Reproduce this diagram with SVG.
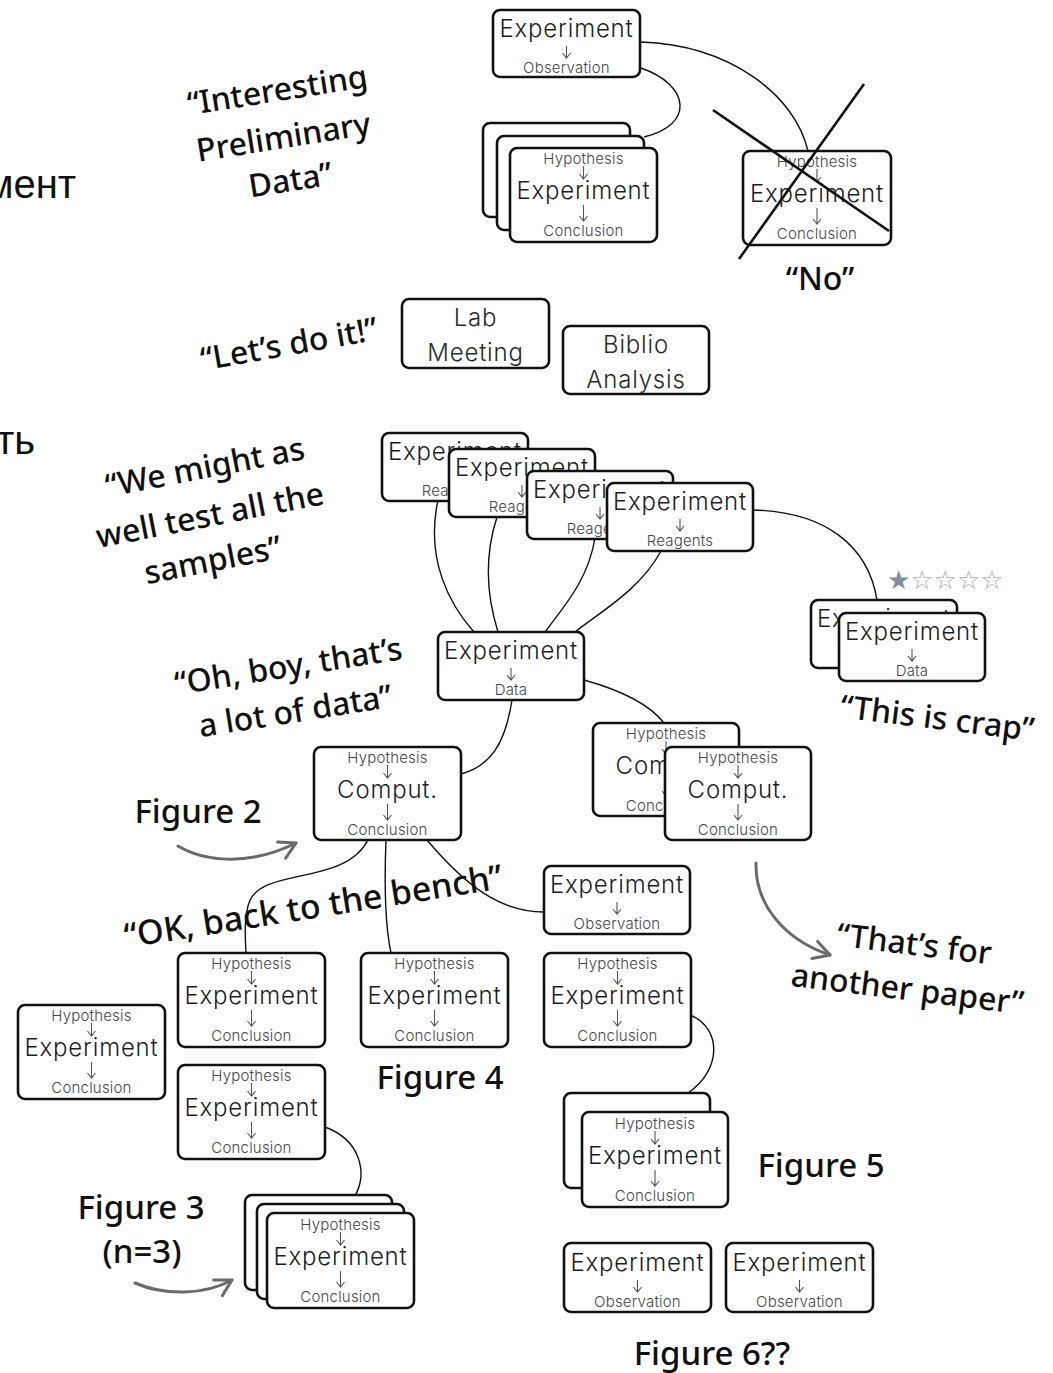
<svg xmlns="http://www.w3.org/2000/svg" width="1053" height="1373" viewBox="0 0 1053 1373">
<style>
.box{fill:#fff;stroke:#111;stroke-width:2.6}
.lg{font-family:Inter,Lato,"DejaVu Sans",sans-serif;font-weight:300;font-size:24px;letter-spacing:0.8px;fill:#1e1e1e;text-anchor:middle}
.sm{font-family:Inter,Lato,"DejaVu Sans",sans-serif;font-weight:300;font-size:15px;letter-spacing:0.2px;fill:#474747;text-anchor:middle}
.ar{fill:none;stroke:#555;stroke-width:1.1}
.con{fill:none;stroke:#111;stroke-width:1.4}
.q{font-family:"Noto Sans","DejaVu Sans",sans-serif;font-weight:500;font-size:32px;fill:#111;text-anchor:middle}
.fig{font-family:"Noto Sans","DejaVu Sans",sans-serif;font-weight:500;font-size:33px;fill:#111;text-anchor:middle}
.garr{fill:none;stroke:#6a6a6a;stroke-width:3;stroke-linecap:round}
.x{stroke:#111;stroke-width:2.6}
.ru{font-family:"Liberation Sans",Arial,sans-serif;font-size:40px;fill:#111}
.st{font-family:"DejaVu Sans",sans-serif;font-size:26px}
</style>
<defs>
<marker id="gh" viewBox="0 0 22 22" refX="19" refY="11" markerWidth="22" markerHeight="22" markerUnits="userSpaceOnUse" orient="auto"><path d="M3 2 L19 11 L3 20" fill="none" stroke="#6a6a6a" stroke-width="3" stroke-linecap="round" stroke-linejoin="round"/></marker>
</defs>
<rect width="1053" height="1373" fill="#fff"/>

<g id="connectors">
<path class="con" d="M641 42 C730 45 795 95 808 151"/>
<path class="con" d="M641 68 C690 85 695 125 644 137"/>
<path class="con" d="M438 500 C425 560 450 605 474 632"/>
<path class="con" d="M497 517 C483 560 488 600 498 632"/>
<path class="con" d="M595 538 C588 580 565 605 545 632"/>
<path class="con" d="M661 551 C640 590 600 612 575 632"/>
<path class="con" d="M753 510 C825 512 868 545 877 600"/>
<path class="con" d="M512 700 C505 745 490 766 461 774"/>
<path class="con" d="M584 680 C620 690 650 705 664 723"/>
<path class="con" d="M368 840 C345 885 265 868 250 900 C244 915 245 935 246 953"/>
<path class="con" d="M386 840 C384 890 385 925 391 953"/>
<path class="con" d="M427 840 C465 885 500 912 544 912"/>
<path class="con" d="M325 1127 C360 1140 368 1172 355 1196"/>
<path class="con" d="M690 1015 C722 1028 722 1070 688 1093"/>
</g>

<g id="n-top-obs" transform="translate(493,10)">
<rect class="box" width="147" height="67" rx="7"/>
<text class="lg" x="73.5" y="27">Experiment</text>
<path class="ar" d="M73.5 36 V48 M69.5 43 L73.5 48 L77.5 43"/>
<text class="sm" x="73.5" y="63">Observation</text>
</g>

<g id="n-prelim-stack">
<rect class="box" x="483" y="123" width="147" height="94" rx="7"/>
<rect class="box" x="497" y="136" width="147" height="94" rx="7"/>
<g transform="translate(510,148)">
<rect class="box" width="147" height="94" rx="7"/>
<text class="sm" x="73.5" y="16">Hypothesis</text>
<path class="ar" d="M73.5 18 V31 M69.5 26 L73.5 31 L77.5 26"/>
<text class="lg" x="73.5" y="51">Experiment</text>
<path class="ar" d="M73.5 57 V73 M69.5 68 L73.5 73 L77.5 68"/>
<text class="sm" x="73.5" y="88">Conclusion</text>
</g>
</g>

<g id="n-crossed">
<g transform="translate(743,151)">
<rect class="box" width="148" height="94" rx="7"/>
<text class="sm" x="74" y="16">Hypothesis</text>
<path class="ar" d="M74 18 V31 M70 26 L74 31 L78 26"/>
<text class="lg" x="74" y="51">Experiment</text>
<path class="ar" d="M74 57 V73 M70 68 L74 73 L78 68"/>
<text class="sm" x="74" y="88">Conclusion</text>
</g>
<line class="x" x1="713" y1="110" x2="889" y2="231"/>
<line class="x" x1="864" y1="84" x2="739" y2="259"/>
</g>

<g id="n-lab">
<rect class="box" x="402" y="299" width="147" height="69" rx="7"/>
<text class="lg" x="475.5" y="326" style="fill:#2a2a2a">Lab</text>
<text class="lg" x="475.5" y="361" style="fill:#2a2a2a">Meeting</text>
</g>

<g id="n-biblio">
<rect class="box" x="563" y="326" width="146" height="68" rx="7"/>
<text class="lg" x="636" y="353" style="fill:#2a2a2a">Biblio</text>
<text class="lg" x="636" y="388" style="fill:#2a2a2a">Analysis</text>
</g>

<g id="n-reagents-1" transform="translate(382,433)">
<rect class="box" width="146" height="68" rx="7"/>
<text class="lg" x="73" y="27">Experiment</text>
<path class="ar" d="M73 36 V48 M69 43 L73 48 L77 43"/>
<text class="sm" x="73" y="63">Reagents</text>
</g>
<g id="n-reagents-2" transform="translate(449,449)">
<rect class="box" width="146" height="68" rx="7"/>
<text class="lg" x="73" y="27">Experiment</text>
<path class="ar" d="M73 36 V48 M69 43 L73 48 L77 43"/>
<text class="sm" x="73" y="63">Reagents</text>
</g>
<g id="n-reagents-3" transform="translate(527,471)">
<rect class="box" width="146" height="68" rx="7"/>
<text class="lg" x="73" y="27">Experiment</text>
<path class="ar" d="M73 36 V48 M69 43 L73 48 L77 43"/>
<text class="sm" x="73" y="63">Reagents</text>
</g>
<g id="n-reagents-4" transform="translate(607,483)">
<rect class="box" width="146" height="68" rx="7"/>
<text class="lg" x="73" y="27">Experiment</text>
<path class="ar" d="M73 36 V48 M69 43 L73 48 L77 43"/>
<text class="sm" x="73" y="63">Reagents</text>
</g>

<g id="n-data" transform="translate(438,632)">
<rect class="box" width="146" height="68" rx="7"/>
<text class="lg" x="73" y="27">Experiment</text>
<path class="ar" d="M73 36 V48 M69 43 L73 48 L77 43"/>
<text class="sm" x="73" y="63">Data</text>
</g>

<g id="n-crap-stack">
<g transform="translate(811,600)">
<rect class="box" width="146" height="68" rx="7"/>
<text class="lg" x="73" y="27">Experiment</text>
<text class="sm" x="73" y="63">Data</text>
</g>
<g transform="translate(839,613)">
<rect class="box" width="146" height="68" rx="7"/>
<text class="lg" x="73" y="27">Experiment</text>
<path class="ar" d="M73 36 V48 M69 43 L73 48 L77 43"/>
<text class="sm" x="73" y="63">Data</text>
</g>
<text class="st" x="887" y="589"><tspan fill="#7f8ea0">★</tspan><tspan fill="#a3adb8">☆☆☆☆</tspan></text>
</g>

<g id="n-comput-left" transform="translate(314,747)">
<rect class="box" width="147" height="93" rx="7"/>
<text class="sm" x="73.5" y="16">Hypothesis</text>
<path class="ar" d="M73.5 18 V31 M69.5 26 L73.5 31 L77.5 26"/>
<text class="lg" x="73.5" y="51">Comput.</text>
<path class="ar" d="M73.5 57 V73 M69.5 68 L73.5 73 L77.5 68"/>
<text class="sm" x="73.5" y="88">Conclusion</text>
</g>

<g id="n-comput-stack">
<g transform="translate(593,723)">
<rect class="box" width="146" height="93" rx="7"/>
<text class="sm" x="73" y="16">Hypothesis</text>
<path class="ar" d="M73 18 V31 M69 26 L73 31 L77 26"/>
<text class="lg" x="73" y="51">Comput.</text>
<path class="ar" d="M73 57 V73 M69 68 L73 73 L77 68"/>
<text class="sm" x="73" y="88">Conclusion</text>
</g>
<g transform="translate(665,747)">
<rect class="box" width="146" height="93" rx="7"/>
<text class="sm" x="73" y="16">Hypothesis</text>
<path class="ar" d="M73 18 V31 M69 26 L73 31 L77 26"/>
<text class="lg" x="73" y="51">Comput.</text>
<path class="ar" d="M73 57 V73 M69 68 L73 73 L77 68"/>
<text class="sm" x="73" y="88">Conclusion</text>
</g>
</g>

<g id="n-mid-obs" transform="translate(544,866)">
<rect class="box" width="146" height="68" rx="7"/>
<text class="lg" x="73" y="27">Experiment</text>
<path class="ar" d="M73 36 V48 M69 43 L73 48 L77 43"/>
<text class="sm" x="73" y="63">Observation</text>
</g>

<g id="n-fig4-a" transform="translate(178,953)">
<rect class="box" width="147" height="94" rx="7"/>
<text class="sm" x="73.5" y="16">Hypothesis</text>
<path class="ar" d="M73.5 18 V31 M69.5 26 L73.5 31 L77.5 26"/>
<text class="lg" x="73.5" y="51">Experiment</text>
<path class="ar" d="M73.5 57 V73 M69.5 68 L73.5 73 L77.5 68"/>
<text class="sm" x="73.5" y="88">Conclusion</text>
</g>
<g id="n-fig4-b" transform="translate(361,953)">
<rect class="box" width="147" height="94" rx="7"/>
<text class="sm" x="73.5" y="16">Hypothesis</text>
<path class="ar" d="M73.5 18 V31 M69.5 26 L73.5 31 L77.5 26"/>
<text class="lg" x="73.5" y="51">Experiment</text>
<path class="ar" d="M73.5 57 V73 M69.5 68 L73.5 73 L77.5 68"/>
<text class="sm" x="73.5" y="88">Conclusion</text>
</g>
<g id="n-fig4-c" transform="translate(544,953)">
<rect class="box" width="147" height="94" rx="7"/>
<text class="sm" x="73.5" y="16">Hypothesis</text>
<path class="ar" d="M73.5 18 V31 M69.5 26 L73.5 31 L77.5 26"/>
<text class="lg" x="73.5" y="51">Experiment</text>
<path class="ar" d="M73.5 57 V73 M69.5 68 L73.5 73 L77.5 68"/>
<text class="sm" x="73.5" y="88">Conclusion</text>
</g>
<g id="n-left" transform="translate(18,1005)">
<rect class="box" width="147" height="94" rx="7"/>
<text class="sm" x="73.5" y="16">Hypothesis</text>
<path class="ar" d="M73.5 18 V31 M69.5 26 L73.5 31 L77.5 26"/>
<text class="lg" x="73.5" y="51">Experiment</text>
<path class="ar" d="M73.5 57 V73 M69.5 68 L73.5 73 L77.5 68"/>
<text class="sm" x="73.5" y="88">Conclusion</text>
</g>
<g id="n-fig3-src" transform="translate(178,1065)">
<rect class="box" width="147" height="94" rx="7"/>
<text class="sm" x="73.5" y="16">Hypothesis</text>
<path class="ar" d="M73.5 18 V31 M69.5 26 L73.5 31 L77.5 26"/>
<text class="lg" x="73.5" y="51">Experiment</text>
<path class="ar" d="M73.5 57 V73 M69.5 68 L73.5 73 L77.5 68"/>
<text class="sm" x="73.5" y="88">Conclusion</text>
</g>

<g id="n-fig3-stack">
<rect class="box" x="245" y="1195" width="147" height="95" rx="7"/>
<rect class="box" x="257" y="1204" width="147" height="95" rx="7"/>
<g transform="translate(267,1213)">
<rect class="box" width="147" height="95" rx="7"/>
<text class="sm" x="73.5" y="17">Hypothesis</text>
<path class="ar" d="M73.5 19 V32 M69.5 27 L73.5 32 L77.5 27"/>
<text class="lg" x="73.5" y="52">Experiment</text>
<path class="ar" d="M73.5 58 V74 M69.5 69 L73.5 74 L77.5 69"/>
<text class="sm" x="73.5" y="89">Conclusion</text>
</g>
</g>

<g id="n-fig5-stack">
<rect class="box" x="564" y="1093" width="146" height="95" rx="7"/>
<g transform="translate(582,1112)">
<rect class="box" width="146" height="95" rx="7"/>
<text class="sm" x="73" y="17">Hypothesis</text>
<path class="ar" d="M73 19 V32 M69 27 L73 32 L77 27"/>
<text class="lg" x="73" y="52">Experiment</text>
<path class="ar" d="M73 58 V74 M69 69 L73 74 L77 69"/>
<text class="sm" x="73" y="89">Conclusion</text>
</g>
</g>

<g id="n-fig6-a" transform="translate(564,1243)">
<rect class="box" width="147" height="69" rx="7"/>
<text class="lg" x="73.5" y="28">Experiment</text>
<path class="ar" d="M73.5 37 V49 M69.5 44 L73.5 49 L77.5 44"/>
<text class="sm" x="73.5" y="64">Observation</text>
</g>
<g id="n-fig6-b" transform="translate(726,1243)">
<rect class="box" width="147" height="69" rx="7"/>
<text class="lg" x="73.5" y="28">Experiment</text>
<path class="ar" d="M73.5 37 V49 M69.5 44 L73.5 49 L77.5 44"/>
<text class="sm" x="73.5" y="64">Observation</text>
</g>

<g id="gray-arrows">
<path class="garr" marker-end="url(#gh)" d="M178 846 C205 862 250 866 296 843"/>
<path class="garr" marker-end="url(#gh)" d="M135 1283 C165 1296 205 1295 232 1280"/>
<path class="garr" marker-end="url(#gh)" d="M756 863 C755 905 785 940 830 955"/>
</g>

<g id="labels">
<text class="q" x="279" y="101" transform="rotate(-9 279 101)">“Interesting</text>
<text class="q" x="285" y="148" transform="rotate(-9 285 148)">Preliminary</text>
<text class="q" x="292" y="191" transform="rotate(-9 292 191)">Data”</text>
<text class="q" x="291" y="355" transform="rotate(-10 291 355)">“Let’s do it!”</text>
<text class="q" x="207" y="478" transform="rotate(-11 207 478)">“We might as</text>
<text class="q" x="212" y="526" transform="rotate(-11 212 526)">well test all the</text>
<text class="q" x="215" y="571" transform="rotate(-11 215 571)">samples”</text>
<text class="q" x="290" y="677" transform="rotate(-9 290 677)">“Oh, boy, that’s</text>
<text class="q" x="297" y="722" transform="rotate(-9 297 722)">a lot of data”</text>
<text class="q" x="936" y="729" transform="rotate(7 936 729)">“This is crap”</text>
<text class="q" x="913" y="955" transform="rotate(7 913 955)">“That’s for</text>
<text class="q" x="906" y="1000" transform="rotate(7 906 1000)">another paper”</text>
<text class="q" x="315" y="918" transform="rotate(-9 315 918)" style="font-size:34px">“OK, back to the bench”</text>
<text class="q" x="820" y="290">“No”</text>
<text class="fig" x="198" y="823">Figure 2</text>
<text class="fig" x="141" y="1219">Figure 3</text>
<text class="fig" x="142" y="1263">(n=3)</text>
<text class="fig" x="440" y="1089">Figure 4</text>
<text class="fig" x="821" y="1177">Figure 5</text>
<text class="fig" x="712" y="1365">Figure 6??</text>
<text class="ru" x="-14" y="198">мент</text>
<text class="ru" x="-4" y="454">ть</text>
</g>
</svg>
